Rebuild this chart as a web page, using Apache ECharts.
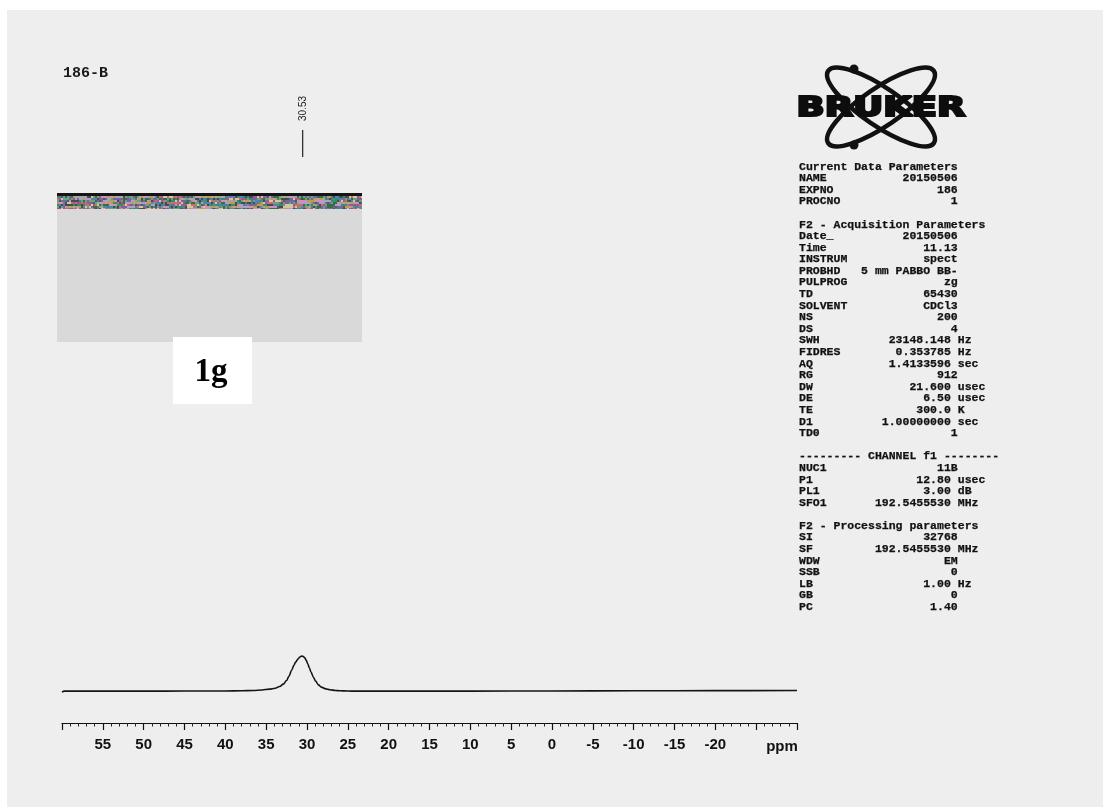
<!DOCTYPE html>
<html>
<head>
<meta charset="utf-8">
<script src="https://cdn.jsdelivr.net/npm/echarts@6/dist/echarts.min.js"></script>
<style>
html,body{margin:0;padding:0;background:#ffffff;}
#chart{width:1105px;height:809px;}
</style>
</head>
<body>
<div id="chart"></div>
<script>
// ---- data ----
const sampleName = '186-B';
const compoundLabel = '1g';
const peakPpm = 30.53;
const peakLabel = '30.53';
const axisUnit = 'ppm';
const xTickLabels = [55, 50, 45, 40, 35, 30, 25, 20, 15, 10, 5, 0, -5, -10, -15, -20];
// spectrum points: chemical shift (ppm) and relative intensity
const specPpm = [60, 59.7, 58, 50, 45, 40, 38, 36.6, 35.5, 34.6, 33.9, 33.35, 32.9, 32.5, 32.2, 31.9, 31.6, 31.4, 31.1, 30.9, 30.75, 30.6, 30.45, 30.26, 30.1, 29.9, 29.7, 29.5, 29.2, 28.95, 28.6, 28.25, 27.7, 27.2, 26.5, 26, 25, 24, 20, 10, 0, -10, -20, -30];
const specInt = [-3, 0, 0, 0, 0.3, 0.5, 1, 1.9, 3.5, 5.7, 8.5, 13.3, 20, 30.5, 43, 59, 74, 83, 92, 97, 99.4, 100, 99, 95, 88, 78, 66, 54, 39, 28.6, 18, 11.4, 6.5, 3.8, 1.9, 1, 0.4, 0, 0, 0, 0.5, 1, 1.5, 2];
// parameter block lines: [label, value, unit]
const paramLines = [
  ['Current Data Parameters'],
  ['NAME', '20150506'],
  ['EXPNO', '186'],
  ['PROCNO', '1'],
  [''],
  ['F2 - Acquisition Parameters'],
  ['Date_', '20150506'],
  ['Time', '11.13'],
  ['INSTRUM', 'spect'],
  ['PROBHD', '5 mm PABBO BB-'],
  ['PULPROG', 'zg'],
  ['TD', '65430'],
  ['SOLVENT', 'CDCl3'],
  ['NS', '200'],
  ['DS', '4'],
  ['SWH', '23148.148', 'Hz'],
  ['FIDRES', '0.353785', 'Hz'],
  ['AQ', '1.4133596', 'sec'],
  ['RG', '912'],
  ['DW', '21.600', 'usec'],
  ['DE', '6.50', 'usec'],
  ['TE', '300.0', 'K'],
  ['D1', '1.00000000', 'sec'],
  ['TD0', '1'],
  [''],
  ['========= CHANNEL f1 ========'],
  ['NUC1', '11B'],
  ['P1', '12.80', 'usec'],
  ['PL1', '3.00', 'dB'],
  ['SFO1', '192.5455530', 'MHz'],
  [''],
  ['F2 - Processing parameters'],
  ['SI', '32768'],
  ['SF', '192.5455530', 'MHz'],
  ['WDW', 'EM'],
  ['SSB', '0'],
  ['LB', '1.00', 'Hz'],
  ['GB', '0'],
  ['PC', '1.40']
];

// ---- build ----
const chart = echarts.init(document.getElementById('chart'), null, {renderer: 'canvas'});
const spectrum = specPpm.map((p, i) => [p, specInt[i]]);

function formatParam(row) {
  if (row.length === 1) return row[0].replace(/=/g, '-');
  const [label, value, unit] = row;
  const width = unit ? 22 : 23;
  let pad = width - label.length - value.length;
  if (pad < 1) pad = 1;
  return label + ' '.repeat(pad) + value + (unit ? ' ' + unit : '');
}

const monoFont = 'bold 11.5px "Liberation Mono", "DejaVu Sans Mono", monospace';
const paramGraphics = paramLines.map((row, i) => ({
  type: 'text', silent: true, z: 10,
  style: {
    text: formatParam(row), x: 799, y: 166.7 + i * 11.59,
    font: monoFont, fill: '#111111', stroke: '#111111', lineWidth: 0.25,
    align: 'left', verticalAlign: 'middle'
  }
}));

// noisy strip at top of the grey box (scan artefact)
const strip = document.createElement('canvas');
strip.width = 305; strip.height = 16;
(function () {
  const ctx = strip.getContext('2d');
  ctx.fillStyle = '#8a8f86'; ctx.fillRect(0, 0, 305, 16);
  const pal = ['#3d6b4a', '#9a5a8c', '#5a7fb0', '#b8a04a', '#6aa37a', '#c07070', '#4a4a4a', '#a0a8b8', '#7b5fa8', '#d0c8a0', '#2f8f6f', '#cf8fbf'];
  let s = 12345;
  for (let y = 3; y < 16; y += 2) {
    for (let x = 0; x < 305; x += 2) {
      s = (s * 1103515245 + 12345) & 0x7fffffff;
      ctx.fillStyle = pal[(s >> 8) % pal.length];
      ctx.fillRect(x, y, 2, 2);
    }
  }
  ctx.fillStyle = '#151515'; ctx.fillRect(0, 0, 305, 3);
})();

const staticGraphics = [
  {type: 'rect', silent: true, z: -10, shape: {x: 7, y: 10, width: 1096, height: 797}, style: {fill: '#eeeeee'}},
  {type: 'text', silent: true, style: {text: sampleName, x: 63, y: 73, font: 'bold 15px "Liberation Mono", monospace', fill: '#1a1a1a', verticalAlign: 'middle'}},
  {type: 'rect', silent: true, z: 1, shape: {x: 57, y: 193, width: 305, height: 149}, style: {fill: '#d9d9d9'}},
  {type: 'image', silent: true, z: 2, style: {image: strip, x: 57, y: 193, width: 305, height: 16}},
  {type: 'rect', silent: true, z: 3, shape: {x: 173, y: 337, width: 79, height: 67}, style: {fill: '#ffffff'}},
  {type: 'text', silent: true, z: 4, style: {text: compoundLabel, x: 211, y: 372, font: 'bold 33px "Liberation Serif", "DejaVu Serif", serif', fill: '#000', align: 'center', verticalAlign: 'middle'}},
  // Bruker logo
  {type: 'ellipse', silent: true, z: 5, shape: {cx: 0, cy: 0, rx: 64, ry: 19}, x: 881, y: 107, rotation: -0.6, style: {fill: 'none', stroke: '#111', lineWidth: 4.5}},
  {type: 'ellipse', silent: true, z: 5, shape: {cx: 0, cy: 0, rx: 64, ry: 19}, x: 881, y: 107, rotation: 0.6, style: {fill: 'none', stroke: '#111', lineWidth: 4.5}},
  {type: 'circle', silent: true, z: 6, shape: {cx: 854, cy: 69, r: 4.5}, style: {fill: '#111'}},
  {type: 'circle', silent: true, z: 6, shape: {cx: 854, cy: 145, r: 4.5}, style: {fill: '#111'}},
  {type: 'text', silent: true, z: 7, x: 881, y: 109.5, scaleX: 1.42, scaleY: 1,
    style: {text: 'BRUKER', x: 0, y: 0, font: 'bold 26px "DejaVu Sans", "Liberation Sans", sans-serif', fill: '#0d0d0d', stroke: '#0d0d0d', lineWidth: 2.2, align: 'center', verticalAlign: 'middle'}},
  // axis unit
  {type: 'text', silent: true, style: {text: axisUnit, x: 782, y: 747, font: 'bold 15px "Liberation Sans", Arial, sans-serif', fill: '#111', align: 'center', verticalAlign: 'middle'}}
].concat(paramGraphics);

const option = {
  backgroundColor: '#ffffff',
  animation: false,
  grid: {left: 62, right: 308, top: 100, bottom: 86, containLabel: false},
  xAxis: {
    type: 'value', inverse: true, min: -30, max: 60, interval: 5,
    axisLine: {show: true, onZero: false, lineStyle: {color: '#111', width: 1.2}},
    axisTick: {show: true, length: 7, lineStyle: {color: '#111', width: 1.2}},
    minorTick: {show: true, splitNumber: 5, length: 3.5, lineStyle: {color: '#222', width: 1}},
    splitLine: {show: false},
    axisLabel: {
      margin: 14, color: '#111', fontFamily: '"Liberation Sans", Arial, sans-serif', fontWeight: 'bold', fontSize: 15,
      formatter: v => (xTickLabels.indexOf(v) >= 0 ? String(v) : '')
    }
  },
  yAxis: {type: 'value', show: false, min: -91, max: 1689, splitLine: {show: false}},
  series: [{
    type: 'line', data: spectrum, showSymbol: false, smooth: 0.35, smoothMonotone: 'x',
    lineStyle: {color: '#141414', width: 1.6}, z: 3
  }],
  graphic: staticGraphics
};
chart.setOption(option);

// peak label positioned through the axis scale
const px = chart.convertToPixel({xAxisIndex: 0}, peakPpm);
chart.setOption({
  graphic: staticGraphics.concat([
    {type: 'line', silent: true, shape: {x1: px, y1: 130, x2: px, y2: 157}, style: {stroke: '#222', lineWidth: 1.2}},
    {type: 'text', silent: true, x: px + 0.5, y: 108.5, rotation: Math.PI / 2,
      style: {text: peakLabel, x: 0, y: 0, font: '10px "Liberation Sans", Arial, sans-serif', fill: '#222', align: 'center', verticalAlign: 'middle'}}
  ])
}, {replaceMerge: ['graphic']});
</script>
</body>
</html>
